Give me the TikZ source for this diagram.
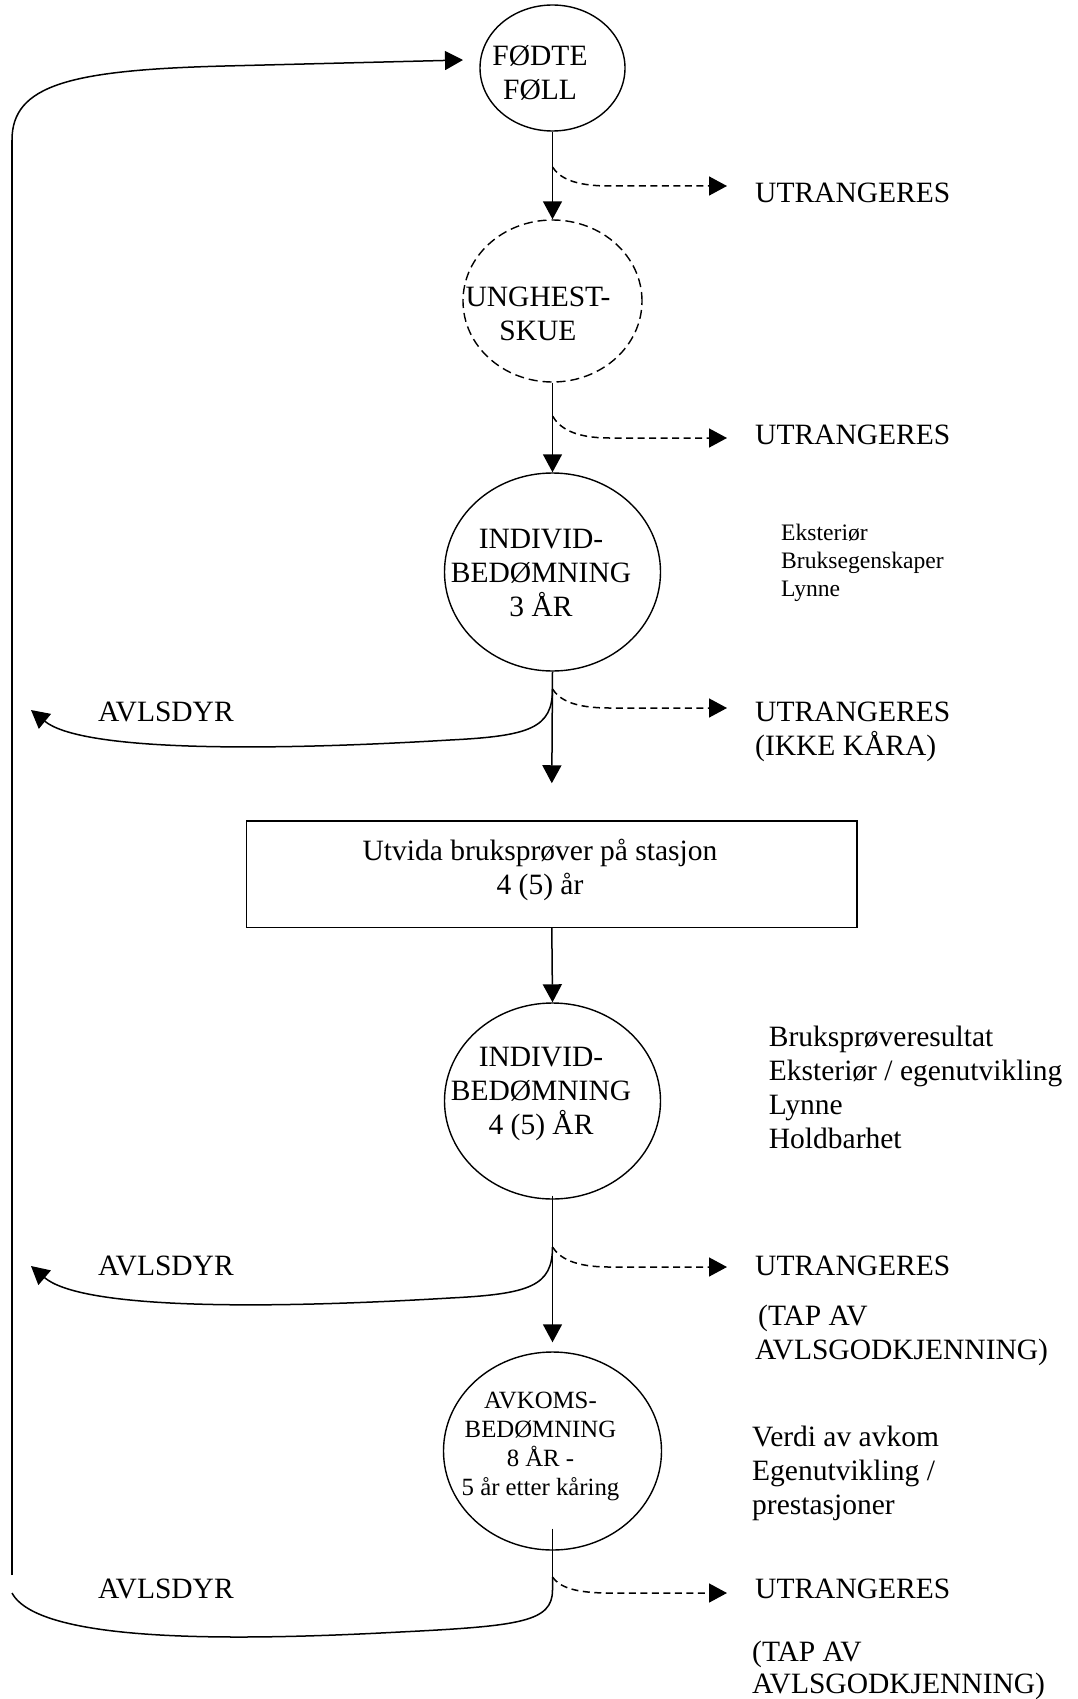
\documentclass[tikz,border=0pt]{standalone}
\usepackage{fontspec}
\setmainfont{Liberation Serif}
\usetikzlibrary{shapes.geometric,arrows.meta}
\newcommand\mylinesc[1]{\vtop{\halign{\hfil##\hfil\cr#1\crcr}}}
\newcommand\mylinesl[1]{\vtop{\halign{##\hfil\cr#1\crcr}}}
\begin{document}
\begin{tikzpicture}[x=1pt,y=-1pt,
  big/.style={font=\fontsize{29.5}{34}\selectfont, inner sep=0pt},
  small/.style={font=\fontsize{23.6}{28}\selectfont, inner sep=0pt},
  mid/.style={font=\fontsize{24.8}{29}\selectfont, inner sep=0pt},
  stage/.style={ellipse, draw, line width=1.4pt, inner sep=0pt},
  flow/.style={-{Triangle[length=18pt,width=19pt]}, line width=1.5pt},
  cull/.style={flow, dash pattern=on 7pt off 4.5pt},
  loopline/.style={line width=1.5pt}]
\useasboundingbox (0,0) rectangle (1078,1699);

% stages
\node[stage, minimum width=145pt, minimum height=126pt] (foll) at (552.5,68) {};
\node[big, anchor=base] (follt) at (540,65.7) {\mylinesc{FØDTE\cr FØLL}};

\node[stage, dash pattern=on 9pt off 5pt, minimum width=179pt, minimum height=162pt] (skue) at (552.5,301) {};
\node[big, anchor=base] (skuet) at (538,306) {\mylinesc{UNGHEST-\cr SKUE}};

\node[stage, minimum width=216pt, minimum height=198pt] (ind3) at (552.5,572) {};
\node[big, anchor=base] (ind3t) at (541,548.3) {\mylinesc{INDIVID-\cr BEDØMNING\cr 3 ÅR}};
\node[small, anchor=base west] (ind3n) at (781,540) {\mylinesl{Eksteriør\cr Bruksegenskaper\cr Lynne}};

\node[draw, line width=1.4pt, inner sep=0pt, minimum width=610.5pt, minimum height=106.5pt] (stasjon) at (551.8,874.2) {};
\node[big, anchor=base] (stasjont) at (540,860) {\mylinesc{Utvida bruksprøver på stasjon\cr 4 (5) år}};

\node[stage, minimum width=216pt, minimum height=196pt] (ind4) at (552.5,1101) {};
\node[big, anchor=base] (ind4t) at (541,1066) {\mylinesc{INDIVID-\cr BEDØMNING\cr 4 (5) ÅR}};
\node[big, anchor=base west] (ind4n) at (768.7,1046.7) {\mylinesl{Bruksprøveresultat\cr Eksteriør / egenutvikling\cr Lynne\cr Holdbarhet}};

\node[stage, minimum width=218pt, minimum height=198pt] (avkom) at (552.5,1451) {};
\node[mid, anchor=base] (avkomt) at (540.5,1408.3) {\mylinesc{AVKOMS-\cr BEDØMNING\cr 8 ÅR -\cr 5 år etter kåring}};
\node[big, anchor=base west] (avkomn) at (752,1446.7) {\mylinesl{Verdi av avkom\cr Egenutvikling /\cr prestasjoner}};

% outcome labels
\node[big, anchor=base west] (u1) at (755,203) {UTRANGERES};
\node[big, anchor=base west] (u2) at (755,444) {UTRANGERES};
\node[big, anchor=base west] (u3) at (755,721.7) {\mylinesl{UTRANGERES\cr (IKKE KÅRA)}};
\node[big, anchor=base west] (u4) at (755,1275) {UTRANGERES};
\node[big, anchor=base west] (t4) at (755,1325) {\mylinesl{\kern3pt(TAP AV\cr AVLSGODKJENNING)}};
\node[big, anchor=base west] (u5) at (755,1598.3) {UTRANGERES};
\node[font=\fontsize{29.5}{31.4}\selectfont, inner sep=0pt, anchor=base west] (t5) at (752,1661.7) {\mylinesl{(TAP AV\cr AVLSGODKJENNING)}};

\node[big, anchor=base west] (a1) at (98,721.7) {AVLSDYR};
\node[big, anchor=base west] (a2) at (98,1275) {AVLSDYR};
\node[big, anchor=base west] (a3) at (98,1598.3) {AVLSDYR};

% branch points and free ends
\coordinate (b1) at (552.5,167);  \coordinate (e1) at (727,186);
\coordinate (b2) at (552.5,416);  \coordinate (e2) at (727,438);
\coordinate (b3) at (552.5,689);  \coordinate (e3) at (727,708);
\coordinate (b4) at (552.5,1247); \coordinate (e4) at (727,1267);
\coordinate (b5) at (552.5,1577); \coordinate (e5) at (727,1593);
\coordinate (r3) at (31,710);
\coordinate (r4) at (31,1266);
\coordinate (lb) at (12,1593);
\coordinate (lv1) at (12,1575);
\coordinate (lv2) at (12,140);
\coordinate (e0) at (463,60);

% main flow
\draw[flow] (foll.south) -- (skue.north);
\draw[flow] (skue.south) -- (ind3.north);
\draw[flow] (ind3.south) -- ([yshift=37pt]stasjon.north);
\draw[flow] (stasjon.south) -- (ind4.north);
\draw[flow] ([yshift=4pt]ind4.south) -- ([yshift=9pt]avkom.north);
\draw[loopline] ([yshift=22pt]avkom.south) -- (b5);

% culling branches (dashed)
\draw[cull] (b1) .. controls +(7,11) and +(-35,0) .. ([xshift=57pt,yshift=-19pt]b1) -- (e1);
\draw[cull] (b2) .. controls +(7,12) and +(-35,0) .. ([xshift=57pt,yshift=-22pt]b2) -- (e2);
\draw[cull] (b3) .. controls +(7,11) and +(-35,0) .. ([xshift=57pt,yshift=-19pt]b3) -- (e3);
\draw[cull] (b4) .. controls +(7,11) and +(-35,0) .. ([xshift=57pt,yshift=-20pt]b4) -- (e4);
\draw[cull] (b5) .. controls +(7,10) and +(-35,0) .. ([xshift=57pt,yshift=-16pt]b5) -- (e5);

% breeding animals (solid curves to the left)
\draw[flow] (b3) .. controls (552.5,728) and (530,736) .. (450,740)
  .. controls (250,752) and (80,750) .. (r3);
\draw[flow] (b4) .. controls (552.5,1286) and (530,1294) .. (450,1298)
  .. controls (250,1310) and (80,1308) .. (r4);

% return loop
\draw[loopline] (b5) -- (552.5,1590) .. controls (552.5,1622) and (520,1626) .. (400,1632)
  .. controls (250,1640) and (40,1645) .. (lb);
\draw[loopline] (lv1) -- (lv2);
\draw[flow] (lv2) .. controls (12,85) and (70,70) .. (225,66) -- (e0);
\end{tikzpicture}
\end{document}
